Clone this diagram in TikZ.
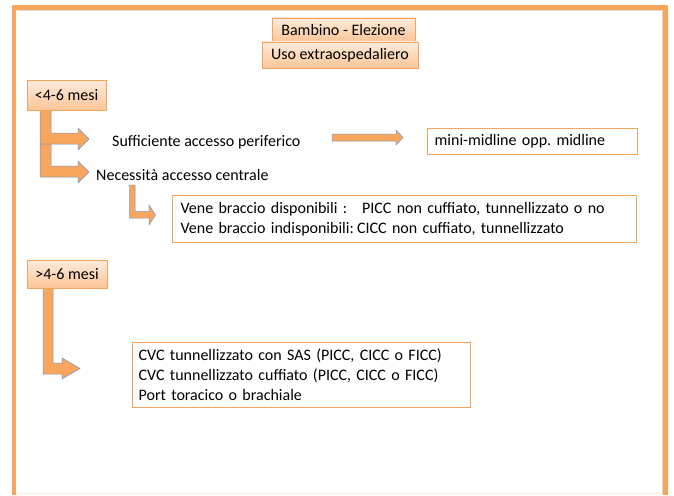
\documentclass[tikz,border=0pt]{standalone}
\usepackage{fontspec}
\setmainfont{Carlito}
\usetikzlibrary{shadows}
\definecolor{frameor}{HTML}{F9A65A}
\definecolor{boxor}{HTML}{F8A35A}
\definecolor{gradtop}{HTML}{FEEBDC}
\definecolor{gradbot}{HTML}{FBC597}
\definecolor{arrfill}{HTML}{F8A65D}
\definecolor{arrline}{HTML}{7395C8}
\frenchspacing
\begin{document}
\begin{tikzpicture}[x=1pt,y=-1pt,
  lbl/.style={font=\fontsize{16}{20}\selectfont, inner sep=0pt},
  gbox/.style={draw=boxor, line width=0.8pt, top color=gradtop, bottom color=gradbot,
    drop shadow={opacity=0.25,shadow xshift=1.2pt,shadow yshift=-1.2pt},
    font=\fontsize{16}{20}\selectfont, inner sep=0pt},
  wbox/.style={draw=boxor, line width=1.3pt, fill=white, font=\fontsize{16}{20}\selectfont,
    align=left, inner ysep=0pt},
  fatarr/.style={fill=arrfill, draw=arrline, line width=0.5pt, line join=miter}]
\useasboundingbox (0,0) rectangle (674,495);
\fill[white] (0,0) rectangle (674,495);
% frame
\draw[black!15, line width=0.6pt] (16.5,10.5) -- (662.5,10.5) -- (662.5,495);
\draw[frameor, line width=4.5pt, line join=miter] (14,495) -- (14,7.5) -- (665.5,7.5) -- (665.5,495);
\draw[gradtop, line width=1pt] (16.5,493.5) -- (663,493.5);
% fat arrows
\filldraw[fatarr] (40,110) -- (51,110) -- (51,133) -- (78,133) -- (78,128) -- (89,139) -- (78,150) -- (78,144) -- (40,144) -- cycle;
\filldraw[fatarr] (40,144) -- (51,144) -- (51,166) -- (78,166) -- (78,161) -- (89,172) -- (78,183) -- (78,177) -- (40,177) -- cycle;
\filldraw[fatarr] (129.5,185) -- (135,185) -- (135,211.5) -- (149,211.5) -- (149,205) -- (155.5,215) -- (149,225) -- (149,218) -- (129.5,218) -- cycle;
\filldraw[fatarr] (43,288) -- (53,288) -- (53,363) -- (62,363) -- (62,358) -- (80,368.5) -- (62,379) -- (62,374) -- (43,374) -- cycle;
\filldraw[fatarr] (332,134) -- (396,134) -- (396,130) -- (403,137.5) -- (396,145) -- (396,141) -- (332,141) -- cycle;
% gradient boxes
\node[gbox, minimum width=143, minimum height=24] (bamb) at (343.5,30) {Bambino - Elezione};
\node[gbox, minimum width=156, minimum height=26] (uso) at (340,55) {Uso extraospedaliero};
\node[gbox, minimum width=79, minimum height=30] (lt) at (66.5,95) {<4-6 mesi};
\node[gbox, minimum width=80, minimum height=28] (gt) at (67,274) {>4-6 mesi};
% labels
\node[lbl, anchor=base west] (suff) at (112,146) {Sufficiente accesso periferico};
\node[lbl, anchor=base west] (nec) at (96,180) {Necessità accesso centrale};
% white boxes
\node[wbox, minimum height=26, text width=196, inner xsep=7pt, anchor=north west] (mini) at (427,128) {mini-midline opp. midline};
\node[wbox, minimum height=47, text width=448, inner xsep=8pt, anchor=north west] (vene) at (172,195)
  {\makebox[181.5pt][l]{Vene braccio disponibili :}PICC non cuffiato, tunnellizzato o no\\
   \makebox[176.5pt][l]{Vene braccio indisponibili:}CICC non cuffiato, tunnellizzato};
\node[wbox, minimum height=65, text width=326, inner xsep=6pt, anchor=north west] (cvc) at (132,342)
  {CVC tunnellizzato con SAS (PICC, CICC o FICC)\\
   CVC tunnellizzato cuffiato (PICC, CICC o FICC)\\
   Port toracico o brachiale};
\end{tikzpicture}
\end{document}
